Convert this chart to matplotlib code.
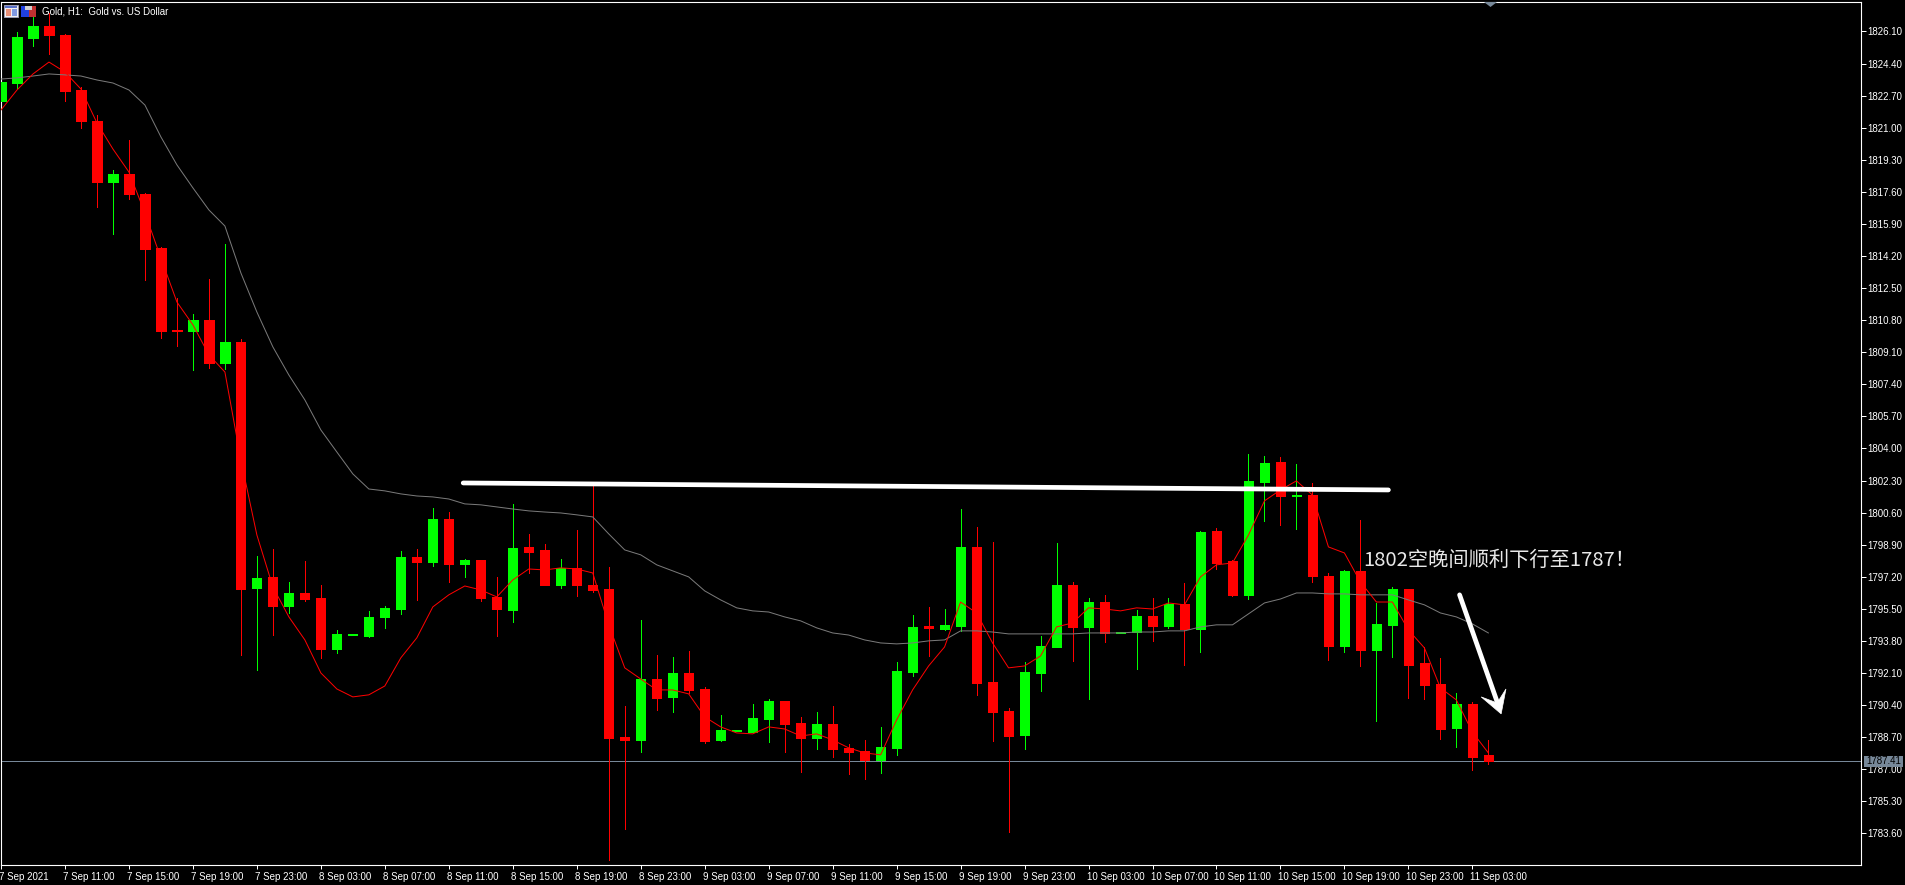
#!/usr/bin/env python3

import matplotlib

matplotlib.use("Agg")
import matplotlib.pyplot as plt
from matplotlib.patches import Polygon, Rectangle
from matplotlib.transforms import ScaledTranslation

opens = [1822.42, 1823.37, 1825.76, 1826.39, 1825.92, 1823.00, 1821.36, 1818.12, 1818.55, 1817.49,
         1814.63, 1810.28, 1810.23, 1810.81, 1808.53, 1809.64, 1796.61, 1797.19, 1795.65, 1796.34,
         1796.08, 1793.37, 1794.11, 1794.06, 1795.07, 1795.49, 1798.25, 1797.98, 1800.26, 1797.88,
         1798.09, 1796.13, 1795.44, 1798.78, 1798.62, 1796.76, 1797.67, 1796.76, 1796.55, 1788.71,
         1788.55, 1791.78, 1790.83, 1792.10, 1791.25, 1788.55, 1789.03, 1788.97, 1789.66, 1790.62,
         1789.45, 1788.66, 1789.40, 1788.13, 1787.97, 1787.49, 1788.13, 1792.15, 1794.59, 1794.43,
         1794.59, 1798.78, 1791.62, 1790.09, 1788.81, 1792.10, 1793.48, 1796.76, 1794.54, 1795.86,
         1794.22, 1794.27, 1795.12, 1794.59, 1795.76, 1794.43, 1799.63, 1798.04, 1796.24, 1802.22,
         1803.28, 1801.48, 1801.53, 1797.24, 1793.53, 1797.51, 1793.32, 1794.65, 1796.55, 1792.63,
         1791.52, 1789.19, 1790.46, 1787.76]
closes = [1823.42, 1825.81, 1826.39, 1825.92, 1822.95, 1821.36, 1818.12, 1818.55, 1817.49, 1814.57,
          1810.23, 1810.23, 1810.81, 1808.53, 1809.64, 1796.55, 1797.14, 1795.65, 1796.34, 1796.02,
          1793.37, 1794.17, 1794.17, 1795.07, 1795.55, 1798.25, 1797.98, 1800.26, 1797.88, 1798.09,
          1796.08, 1795.49, 1798.73, 1798.51, 1796.76, 1797.67, 1796.76, 1796.50, 1788.66, 1788.55,
          1791.78, 1790.78, 1792.10, 1791.20, 1788.50, 1789.08, 1789.08, 1789.72, 1790.62, 1789.40,
          1788.66, 1789.40, 1788.07, 1787.91, 1787.49, 1788.18, 1792.21, 1794.54, 1794.49, 1794.65,
          1798.78, 1791.57, 1790.03, 1788.76, 1792.15, 1793.53, 1796.76, 1794.54, 1795.86, 1794.22,
          1794.27, 1795.12, 1794.59, 1795.76, 1794.43, 1799.57, 1797.93, 1796.24, 1802.28, 1803.23,
          1801.48, 1801.53, 1797.24, 1793.53, 1797.51, 1793.32, 1794.70, 1796.55, 1792.52, 1791.47,
          1789.13, 1790.46, 1787.65, 1787.41]
highs = [1823.42, 1826.07, 1826.87, 1827.08, 1825.97, 1823.16, 1821.68, 1818.76, 1820.35, 1817.54,
         1814.68, 1811.98, 1811.13, 1812.98, 1814.84, 1809.80, 1798.30, 1798.67, 1796.92, 1798.04,
         1796.76, 1794.38, 1794.17, 1795.39, 1795.65, 1798.57, 1798.67, 1800.85, 1800.64, 1798.14,
         1798.09, 1797.19, 1801.06, 1799.47, 1798.94, 1798.14, 1799.68, 1802.01, 1797.72, 1790.35,
         1794.91, 1793.05, 1792.95, 1793.27, 1791.36, 1789.87, 1789.08, 1790.46, 1790.72, 1790.62,
         1789.77, 1790.03, 1790.35, 1788.34, 1788.55, 1789.24, 1792.69, 1795.17, 1795.60, 1795.49,
         1800.79, 1799.84, 1799.04, 1790.25, 1792.69, 1794.06, 1798.99, 1796.92, 1796.08, 1796.24,
         1794.27, 1795.44, 1796.08, 1796.08, 1796.87, 1799.63, 1799.79, 1798.09, 1803.71, 1803.60,
         1803.55, 1803.18, 1802.17, 1797.40, 1797.56, 1800.21, 1795.81, 1796.66, 1796.55, 1793.48,
         1792.90, 1791.04, 1790.56, 1788.55]
lows = [1822.42, 1823.11, 1825.33, 1824.91, 1822.42, 1820.99, 1816.80, 1815.37, 1817.22, 1812.93,
        1809.86, 1809.43, 1808.16, 1808.27, 1808.21, 1793.05, 1792.26, 1794.11, 1795.28, 1795.92,
        1792.90, 1793.16, 1794.11, 1794.01, 1794.49, 1795.23, 1795.97, 1797.77, 1796.92, 1797.19,
        1795.92, 1794.06, 1794.80, 1797.40, 1796.76, 1796.61, 1796.18, 1796.39, 1782.19, 1783.83,
        1787.91, 1790.14, 1790.03, 1791.04, 1788.39, 1788.50, 1789.03, 1788.97, 1788.44, 1787.91,
        1786.85, 1788.07, 1787.65, 1786.75, 1786.48, 1786.80, 1787.76, 1791.94, 1793.00, 1794.38,
        1794.33, 1790.93, 1788.50, 1783.67, 1788.07, 1791.15, 1793.48, 1792.74, 1790.72, 1793.74,
        1794.22, 1792.31, 1793.80, 1794.49, 1792.52, 1793.21, 1797.61, 1796.18, 1796.02, 1800.16,
        1799.95, 1799.73, 1796.92, 1792.79, 1793.21, 1792.47, 1789.56, 1792.95, 1790.78, 1790.72,
        1788.60, 1788.18, 1786.96, 1787.28]

ma_fast = [1821.94, 1823.00, 1823.85, 1824.48, 1823.95, 1823.05, 1821.25, 1819.87, 1818.65, 1816.48,
           1814.09, 1811.76, 1810.55, 1808.96, 1808.05, 1803.39, 1799.41, 1796.66, 1795.07, 1793.85,
           1792.10, 1791.25, 1790.83, 1790.94, 1791.41, 1792.90, 1793.96, 1795.60, 1796.24, 1796.71,
           1796.50, 1796.13, 1797.03, 1797.61, 1797.56, 1797.67, 1797.61, 1797.40, 1794.65, 1792.37,
           1791.78, 1791.20, 1791.20, 1790.99, 1789.77, 1789.24, 1788.92, 1788.87, 1789.24, 1789.13,
           1788.76, 1788.87, 1788.55, 1788.13, 1787.86, 1787.76, 1789.61, 1791.20, 1792.47, 1793.48,
           1795.86, 1795.28, 1793.69, 1792.37, 1792.47, 1793.00, 1794.54, 1794.75, 1795.55, 1795.49,
           1795.39, 1795.55, 1795.49, 1795.81, 1795.71, 1797.19, 1797.83, 1797.93, 1799.41, 1801.22,
           1801.80, 1802.28, 1801.53, 1798.78, 1798.46, 1796.92, 1795.86, 1795.86, 1794.38, 1793.43,
           1791.31, 1790.67, 1788.97, 1787.86]
ma_slow = [1823.58, 1823.64, 1823.74, 1823.85, 1823.80, 1823.74, 1823.53, 1823.37, 1823.00, 1822.20,
           1820.51, 1819.03, 1817.81, 1816.64, 1815.79, 1813.30, 1811.23, 1809.38, 1807.89, 1806.57,
           1804.98, 1803.81, 1802.65, 1801.85, 1801.75, 1801.59, 1801.48, 1801.43, 1801.32, 1801.06,
           1801.01, 1800.90, 1800.79, 1800.69, 1800.63, 1800.58, 1800.48, 1800.37, 1799.47, 1798.62,
           1798.36, 1797.83, 1797.51, 1797.19, 1796.45, 1795.97, 1795.55, 1795.39, 1795.33, 1795.07,
           1794.86, 1794.49, 1794.22, 1794.11, 1793.85, 1793.69, 1793.64, 1793.69, 1793.80, 1793.85,
           1794.33, 1794.33, 1794.27, 1794.17, 1794.17, 1794.17, 1794.17, 1794.17, 1794.22, 1794.22,
           1794.22, 1794.27, 1794.27, 1794.33, 1794.33, 1794.54, 1794.65, 1794.65, 1795.23, 1795.81,
           1796.02, 1796.34, 1796.34, 1796.29, 1796.29, 1796.24, 1796.24, 1796.24, 1795.97, 1795.71,
           1795.28, 1795.07, 1794.70, 1794.22]

price_ticks = [1783.60, 1785.30, 1787.00, 1788.70, 1790.40, 1792.10, 1793.80, 1795.50, 1797.20,
               1798.90, 1800.60, 1802.30, 1804.00, 1805.70, 1807.40, 1809.10, 1810.80, 1812.50,
               1814.20, 1815.90, 1817.60, 1819.30, 1821.00, 1822.70, 1824.40, 1826.10]
time_ticks = list(range(0, 93, 4))
time_labels = ["7 Sep 2021", "7 Sep 11:00", "7 Sep 15:00", "7 Sep 19:00", "7 Sep 23:00",
               "8 Sep 03:00", "8 Sep 07:00", "8 Sep 11:00", "8 Sep 15:00", "8 Sep 19:00",
               "8 Sep 23:00", "9 Sep 03:00", "9 Sep 07:00", "9 Sep 11:00", "9 Sep 15:00",
               "9 Sep 19:00", "9 Sep 23:00", "10 Sep 03:00", "10 Sep 07:00", "10 Sep 11:00",
               "10 Sep 15:00", "10 Sep 19:00", "10 Sep 23:00", "11 Sep 03:00"]
last_price = 1787.41

GREEN = "#00ff00"
RED = "#ff0000"
SLATE = "#778899"
SMALL_FONT = ["Liberation Sans", "DejaVu Sans"]
SMALL_SIZE = 7.0

W, H = 1905, 885


def main():
    plt.rcParams["font.family"] = SMALL_FONT

    fig = plt.figure(figsize=(W / 100, H / 100), dpi=100, facecolor="black")
    # axes box of the terminal, in pixels from the top left corner
    left, right, top, bottom = 1, 1861, 1.5, 865
    ax = fig.add_axes([left / W, 1 - bottom / H, (right - left) / W, (bottom - top) / H])
    ax.set_facecolor("black")
    ax.set_xlim(0.044, 116.3)
    ax.set_ylim(1781.92, 1827.69)

    xs = list(range(len(opens)))
    colors = [GREEN if c >= o else RED for o, c in zip(opens, closes)]

    ax.vlines(xs, lows, highs, colors=colors, linewidth=0.72, antialiased=False, zorder=2)
    ax.bar(xs, [c - o for o, c in zip(opens, closes)], bottom=opens, width=9.2 / 16,
           color=colors, edgecolor=colors, linewidth=0.72, antialiased=False, zorder=3)

    ax.plot(xs, ma_slow, color="#7a7a7a", linewidth=0.72, zorder=4)
    ax.plot(xs, ma_fast, color=RED, linewidth=0.72, zorder=5)
    ax.axhline(last_price, color=SLATE, linewidth=0.72, zorder=1)

    # hand drawn line and arrow on the chart
    ax.plot([28.9, 86.75], [1802.17, 1801.80], color="white", linewidth=3.4,
            solid_capstyle="round", zorder=6)
    ax.plot([91.2, 93.62], [1796.24, 1790.4], color="white", linewidth=3.4,
            solid_capstyle="round", zorder=6)
    ax.add_patch(Polygon([[93.8, 1789.93], [92.55, 1790.83], [93.55, 1790.51], [94.1, 1791.25]],
                         closed=True, facecolor="white", edgecolor="white", linewidth=0.5, zorder=6))
    ax.text(85.17, 1798.08, "1802空晚间顺利下行至1787！", color="#e8e8e8", fontsize=14.6,
            family=["Noto Sans CJK SC", "DejaVu Sans"], ha="left", va="center", zorder=7)

    for side in ["top", "bottom", "left", "right"]:
        ax.spines[side].set_color("white")
        ax.spines[side].set_linewidth(0.8)

    ax.yaxis.tick_right()
    ax.set_yticks(price_ticks)
    ax.set_yticklabels([f"{p:.2f}" for p in price_ticks])
    ax.tick_params(axis="y", colors="white", length=3.4, width=0.72, pad=1, labelsize=SMALL_SIZE)
    ax.set_xticks(time_ticks)
    ax.set_xticklabels(time_labels, ha="left")
    ax.tick_params(axis="x", colors="white", length=3, width=0.72, pad=2, labelsize=SMALL_SIZE)
    # labels start just left of their tick
    shift = ScaledTranslation(-2 / 100, 0, fig.dpi_scale_trans)
    for label in ax.get_xticklabels():
        label.set_transform(label.get_transform() + shift)

    # overlay in pixels for the terminal decorations
    deco = fig.add_axes([0, 0, 1, 1], zorder=10)
    deco.set_xlim(0, W)
    deco.set_ylim(H, 0)
    deco.axis("off")

    deco.text(42, 11.5, "Gold, H1:  Gold vs. US Dollar", color="white", fontsize=SMALL_SIZE,
              ha="left", va="center")

    # price tag
    deco.add_patch(Rectangle((1864, 756), 39, 11, facecolor=SLATE, edgecolor="none"))
    deco.text(1883.5, 761.5, "1787.41", color="black", fontsize=SMALL_SIZE, ha="center", va="center")

    # marker of the last bar on the top edge
    deco.add_patch(Polygon([[1484, 2], [1497, 2], [1490.5, 7]], closed=True,
                           facecolor=SLATE, edgecolor="none"))

    # two toolbar icons
    deco.add_patch(Rectangle((4, 5), 14, 12, facecolor="#f0f0f0", edgecolor="#9a9ab0", linewidth=0.7))
    deco.add_patch(Rectangle((5, 6), 12, 2, facecolor="#5a70c8", edgecolor="none"))
    deco.add_patch(Rectangle((6, 9), 5, 6.5, facecolor="#e89078", edgecolor="none"))
    deco.add_patch(Rectangle((12, 9), 5, 6.5, facecolor="#8098e0", edgecolor="none"))
    deco.add_patch(Rectangle((21, 6), 7.5, 11, facecolor="#2040e0", edgecolor="none"))
    deco.add_patch(Rectangle((28.5, 6), 7.5, 11, facecolor="#c03030", edgecolor="none"))
    deco.add_patch(Rectangle((25, 6), 7, 4, facecolor="#d0d0d0", edgecolor="none"))

    fig.savefig("out.png", dpi=100, facecolor="black")


if __name__ == "__main__":
    main()
